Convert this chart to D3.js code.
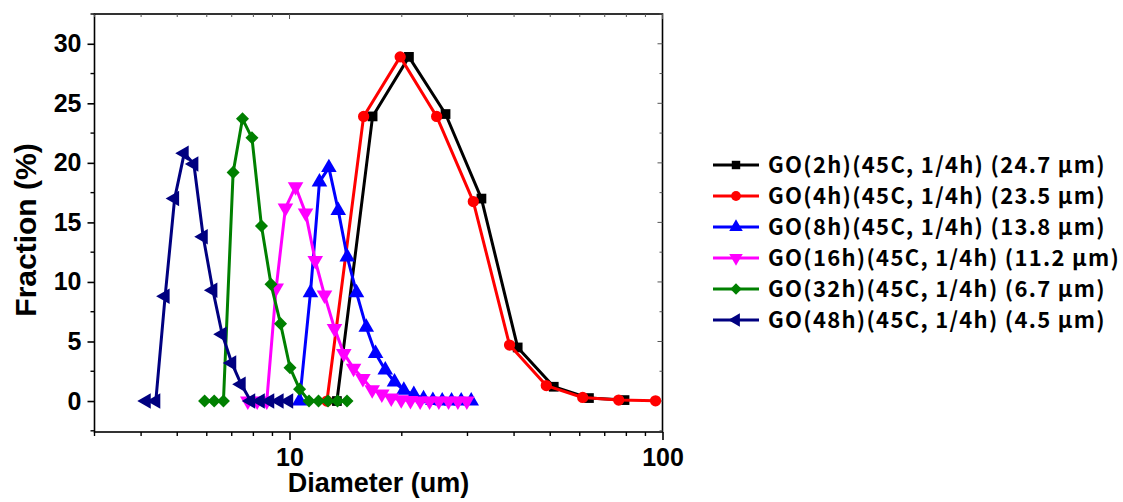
<!DOCTYPE html>
<html>
<head>
<meta charset="utf-8">
<script src="https://cdn.jsdelivr.net/npm/d3@7"></script>
<style>
  body { margin: 0; background: #fff; }
  svg { display: block; }
</style>
</head>
<body>
<script>
var svgW = 1123;
var svgH = 502;

// diameters (um) and fraction (%) per sample
var d2h = [13.4, 16.7, 20.9, 26.2, 32.7, 40.9, 51.1, 63.5, 79.1];
var f2h = [0, 23.9, 28.9, 24.1, 17.0, 4.5, 1.2, 0.25, 0.08];

var d4h = [12.6, 15.8, 19.8, 24.8, 31.1, 38.9, 48.8, 61.1, 76.3, 95.8];
var f4h = [0, 23.9, 28.9, 23.9, 16.75, 4.7, 1.3, 0.3, 0.08, 0.02];

var d8h = [10.64, 11.38, 12.03, 12.75, 13.51, 14.28, 15.12, 16.06, 17.01, 18.06,
           19.12, 20.25, 21.54, 22.87, 24.23, 25.67, 27.19, 28.86, 30.7];
var f8h = [0, 9.1, 18.4, 19.6, 16.0, 12.1, 9.1, 6.2, 4.0, 2.6,
           1.6, 0.9, 0.55, 0.2, 0.05, 0, 0, 0, 0];

var d16h = [7.73, 8.19, 8.69, 9.21, 9.75, 10.38, 11.04, 11.72, 12.41, 13.2, 13.98, 14.85,
            15.73, 16.66, 17.68, 18.74, 19.93, 21.1, 22.4, 23.74, 25.14, 26.69, 28.27, 29.88];
var f16h = [0, 0, 0, 9.5, 16.2, 18.0, 15.8, 11.8, 8.9, 6.1, 4.0, 2.75,
            1.9, 0.95, 0.6, 0.25, 0.1, 0.05, 0, 0, 0, 0, 0, 0];

var d32h = [5.92, 6.28, 6.65, 7.06, 7.48, 7.93, 8.41, 8.92, 9.46, 10.03, 10.64, 11.28,
            11.96, 12.68, 13.45, 14.26];
var f32h = [0, 0, 0, 19.2, 23.7, 22.1, 14.7, 9.8, 6.5, 2.8, 1.0, 0, 0, 0, 0, 0];

var d48h = [4.13, 4.38, 4.64, 4.92, 5.22, 5.54, 5.87, 6.23, 6.6, 7.0, 7.42, 7.87,
            8.35, 8.85, 9.38, 9.95];
var f48h = [0, 0, 8.8, 17.0, 20.8, 19.9, 13.8, 9.3, 5.6, 3.2, 1.4, 0, 0, 0, 0, 0];

var seriesNames = [
  "GO(2h)(45C, 1/4h) (24.7 μm)",
  "GO(4h)(45C, 1/4h) (23.5 μm)",
  "GO(8h)(45C, 1/4h) (13.8 μm)",
  "GO(16h)(45C, 1/4h) (11.2 μm)",
  "GO(32h)(45C, 1/4h) (6.7 μm)",
  "GO(48h)(45C, 1/4h) (4.5 μm)"
];

var xMajor = [10, 100];
var xMinor = [3, 4, 5, 6, 7, 8, 9, 20, 30, 40, 50, 60, 70, 80, 90];
var yMajor = [0, 5, 10, 15, 20, 25, 30];
var yMinor = [-2.5, 2.5, 7.5, 12.5, 17.5, 22.5, 27.5, 32.5];

var colors = ["#000000", "#ff0000", "#0000ff", "#ff00ff", "#008000", "#000080"];
var symbols = [d3.symbolSquare, d3.symbolCircle, d3.symbolTriangle, d3.symbolTriangle, d3.symbolSquare, d3.symbolTriangle];
var symSize = [95, 100, 105, 105, 85, 105];
var symRot = [0, 0, 0, 180, 45, -90];

var series = [[d2h, f2h], [d4h, f4h], [d8h, f8h], [d16h, f16h], [d32h, f32h], [d48h, f48h]];

// plot box (window.top is taken, so no "top" here)
var plotL = 94.5, plotR = 662.5, plotT = 14, plotB = 432;

var x = d3.scaleLog().domain([3, 100]).range([plotL, plotR]);
var y = d3.scaleLinear().domain([-2.6, 32.5]).range([plotB, plotT]);

var svg = d3.select("body")
  .append("svg")
  .attr("width", svgW)
  .attr("height", svgH);

// frame
svg.append("rect")
  .attr("x", plotL)
  .attr("y", plotT)
  .attr("width", plotR - plotL)
  .attr("height", plotB - plotT)
  .attr("fill", "none")
  .attr("stroke", "#000")
  .attr("stroke-width", 1.6);

// bottom axis, ticks out
var xAxis = d3.axisBottom(x).tickValues(xMajor).tickFormat(d3.format("d")).tickSize(8).tickPadding(8);
var gx = svg.append("g").attr("transform", "translate(0," + plotB + ")").call(xAxis);
gx.select(".domain").remove();
gx.selectAll("line").attr("stroke-width", 1.6);
gx.selectAll("text")
  .attr("font-family", "'Liberation Sans', Arial, sans-serif")
  .attr("font-weight", "bold")
  .attr("font-size", "25px")
  .attr("fill", "#000");

svg.append("g").selectAll("line")
  .data(xMinor)
  .enter()
  .append("line")
  .attr("x1", function(d) { return x(d); })
  .attr("x2", function(d) { return x(d); })
  .attr("y1", plotB)
  .attr("y2", plotB + 4)
  .attr("stroke", "#000")
  .attr("stroke-width", 1.4);

// top ticks, inward
svg.append("g").selectAll("line")
  .data(xMinor.concat(xMajor))
  .enter()
  .append("line")
  .attr("x1", function(d) { return x(d); })
  .attr("x2", function(d) { return x(d); })
  .attr("y1", plotT)
  .attr("y2", function(d) { return plotT + (xMajor.indexOf(d) >= 0 ? 5 : 3); })
  .attr("stroke", "#555")
  .attr("stroke-width", 1);

// left axis, ticks out
var yAxis = d3.axisLeft(y).tickValues(yMajor).tickSize(7).tickPadding(6);
var gy = svg.append("g").attr("transform", "translate(" + plotL + ",0)").call(yAxis);
gy.select(".domain").remove();
gy.selectAll("line").attr("stroke-width", 1.6);
gy.selectAll("text")
  .attr("font-family", "'Liberation Sans', Arial, sans-serif")
  .attr("font-weight", "bold")
  .attr("font-size", "25px")
  .attr("fill", "#000");

svg.append("g").selectAll("line")
  .data(yMinor)
  .enter()
  .append("line")
  .attr("x1", plotL - 4)
  .attr("x2", plotL)
  .attr("y1", function(d) { return y(d); })
  .attr("y2", function(d) { return y(d); })
  .attr("stroke", "#000")
  .attr("stroke-width", 1.4);

// right ticks, inward
svg.append("g").selectAll("line")
  .data(yMinor.concat(yMajor))
  .enter()
  .append("line")
  .attr("x1", plotR)
  .attr("x2", function(d) { return plotR - (yMajor.indexOf(d) >= 0 ? 5 : 3); })
  .attr("y1", function(d) { return y(d); })
  .attr("y2", function(d) { return y(d); })
  .attr("stroke", "#555")
  .attr("stroke-width", 1);

// axis titles
svg.append("text")
  .text("Diameter (um)")
  .attr("x", (plotL + plotR) / 2)
  .attr("y", 492)
  .attr("text-anchor", "middle")
  .attr("font-family", "'Liberation Sans', Arial, sans-serif")
  .attr("font-weight", "bold")
  .attr("font-size", "27px");

svg.append("text")
  .text("Fraction (%)")
  .attr("transform", "translate(36,230) rotate(-90)")
  .attr("text-anchor", "middle")
  .attr("font-family", "'Liberation Sans', Arial, sans-serif")
  .attr("font-weight", "bold")
  .attr("font-size", "30px");

// series: line then markers
var line = d3.line()
  .x(function(d) { return x(d[0]); })
  .y(function(d) { return y(d[1]); });

series.forEach(function(s, k) {
  var pts = s[0].map(function(d, i) { return [d, s[1][i]]; });
  var g = svg.append("g");
  g.append("path")
    .datum(pts)
    .attr("d", line)
    .attr("fill", "none")
    .attr("stroke", colors[k])
    .attr("stroke-width", 3)
    .attr("stroke-linejoin", "round");
  g.selectAll("path.m")
    .data(pts)
    .enter()
    .append("path")
    .attr("class", "m")
    .attr("d", d3.symbol().type(symbols[k]).size(symSize[k]))
    .attr("transform", function(d) {
      return "translate(" + x(d[0]) + "," + y(d[1]) + ") rotate(" + symRot[k] + ")";
    })
    .attr("fill", colors[k]);
});

// legend
var legend = svg.append("g").attr("transform", "translate(713,165)");
var rows = legend.selectAll("g")
  .data(seriesNames)
  .enter()
  .append("g")
  .attr("transform", function(d, i) { return "translate(0," + (i * 31) + ")"; });

rows.append("line")
  .attr("x1", 0)
  .attr("x2", 46)
  .attr("stroke", function(d, i) { return colors[i]; })
  .attr("stroke-width", 3);

rows.append("path")
  .attr("d", function(d, i) { return d3.symbol().type(symbols[i]).size(symSize[i] * 0.75)(); })
  .attr("transform", function(d, i) { return "translate(23,0) rotate(" + symRot[i] + ")"; })
  .attr("fill", function(d, i) { return colors[i]; });

rows.append("text")
  .text(function(d) { return d; })
  .attr("x", 55)
  .attr("y", 0)
  .attr("dy", "0.35em")
  .attr("font-family", "'Noto Sans CJK KR', 'Noto Sans', sans-serif")
  .attr("font-weight", "bold")
  .attr("font-size", "22px")
  .attr("letter-spacing", "1.3px")
  .attr("fill", "#000");
</script>
</body>
</html>
